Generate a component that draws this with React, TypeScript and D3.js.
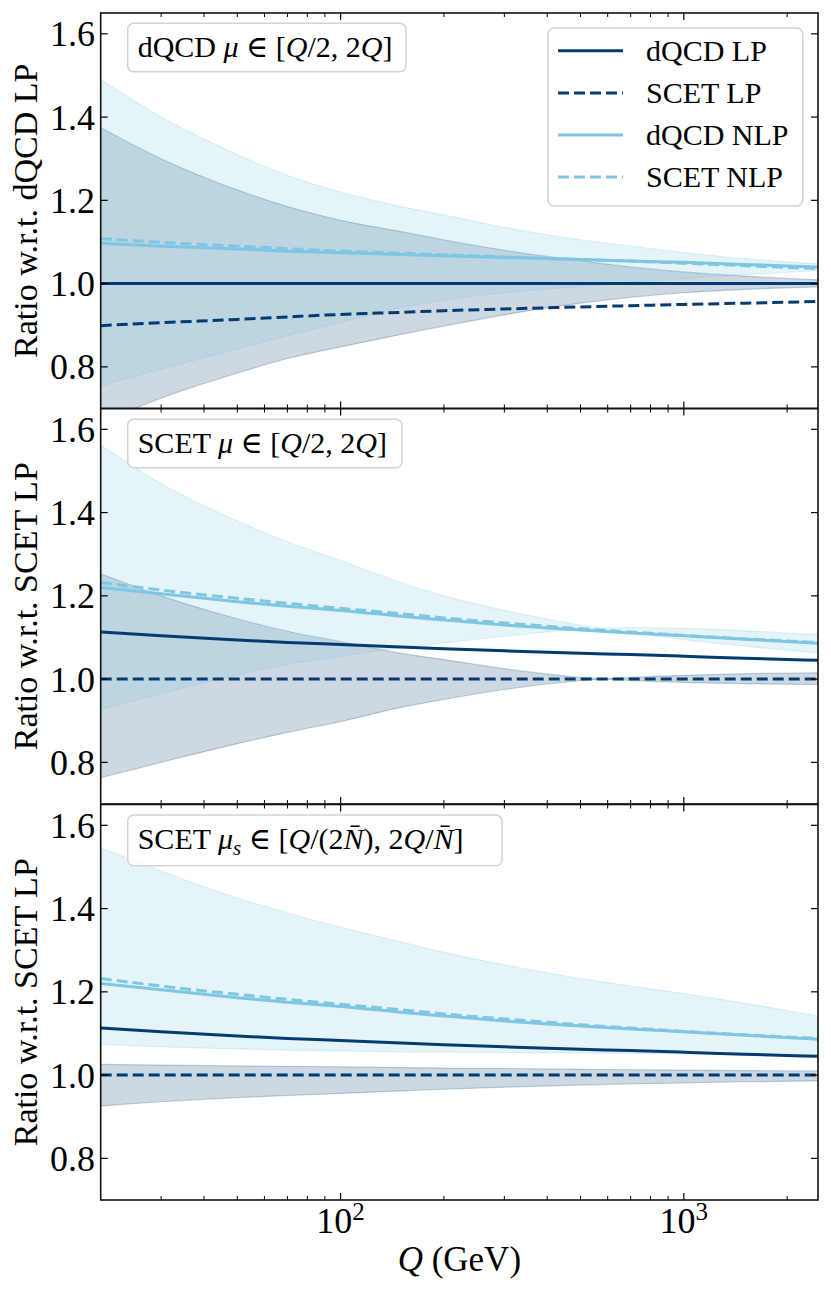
import React from "react";
import * as d3 from "d3";

// ---------- data ----------
const Q = [20, 30, 50, 70, 100, 150, 200, 300, 500, 700, 1000, 1500, 2460];

// panel 1 : ratio w.r.t. dQCD LP, mu in [Q/2, 2Q]
const p1DqcdLP = [1, 1, 1, 1, 1, 1, 1, 1, 1, 1, 1, 1, 1];
const p1ScetLP = [0.899, 0.906, 0.914, 0.92, 0.926, 0.931, 0.935, 0.939, 0.944, 0.947, 0.95, 0.953, 0.957];
const p1DqcdNLP = [1.097, 1.09, 1.083, 1.078, 1.074, 1.07, 1.067, 1.063, 1.058, 1.054, 1.051, 1.046, 1.04];
const p1ScetNLP = [1.108, 1.099, 1.09, 1.084, 1.078, 1.073, 1.069, 1.064, 1.058, 1.054, 1.049, 1.043, 1.036];
const p1LpLow = [0.665, 0.725, 0.785, 0.82, 0.848, 0.878, 0.898, 0.925, 0.953, 0.967, 0.978, 0.986, 0.992];
const p1LpHigh = [1.375, 1.3, 1.225, 1.185, 1.152, 1.125, 1.105, 1.08, 1.055, 1.04, 1.028, 1.018, 1.009];
const p1NlpLow = [0.754, 0.795, 0.843, 0.875, 0.907, 0.942, 0.96, 0.978, 0.993, 1.003, 1.012, 1.021, 1.031];
const p1NlpHigh = [1.49, 1.4, 1.31, 1.26, 1.22, 1.185, 1.165, 1.135, 1.105, 1.09, 1.075, 1.06, 1.048];

// panels 2 and 3 : ratio w.r.t. SCET LP
const p2DqcdLP = [1.113, 1.104, 1.094, 1.088, 1.083, 1.077, 1.073, 1.068, 1.062, 1.059, 1.055, 1.05, 1.045];
const p2ScetLP = [1, 1, 1, 1, 1, 1, 1, 1, 1, 1, 1, 1, 1];
const p2DqcdNLP = [1.22, 1.205, 1.186, 1.175, 1.165, 1.151, 1.142, 1.13, 1.118, 1.111, 1.104, 1.096, 1.086];
const p2ScetNLP = [1.232, 1.214, 1.194, 1.182, 1.17, 1.157, 1.147, 1.135, 1.121, 1.113, 1.105, 1.097, 1.088];

const p2LpHigh = [1.253, 1.2, 1.145, 1.115, 1.09, 1.062, 1.047, 1.025, 1.004, 0.997, 0.992, 0.989, 0.987];
const p2LpLow = [0.763, 0.8, 0.845, 0.872, 0.898, 0.932, 0.951, 0.975, 0.996, 1.004, 1.009, 1.013, 1.015];
const p2NlpHigh = [1.5625, 1.47, 1.38, 1.33, 1.285, 1.232, 1.2, 1.165, 1.13, 1.112, 1.095, 1.079, 1.063];
const p2NlpLow = [0.927, 0.965, 1.01, 1.035, 1.055, 1.075, 1.087, 1.103, 1.12, 1.124, 1.122, 1.116, 1.107];

const p3LpHigh = [1.026, 1.024, 1.022, 1.021, 1.02, 1.018, 1.017, 1.016, 1.014, 1.013, 1.012, 1.011, 1.01];
const p3LpLow = [0.926, 0.936, 0.946, 0.951, 0.956, 0.962, 0.966, 0.971, 0.976, 0.979, 0.981, 0.984, 0.986];
const p3NlpHigh = [1.546, 1.49, 1.425, 1.39, 1.355, 1.32, 1.295, 1.265, 1.232, 1.214, 1.196, 1.173, 1.142];
const p3NlpLow = [1.074, 1.068, 1.063, 1.06, 1.058, 1.056, 1.055, 1.054, 1.053, 1.052, 1.051, 1.05, 1.049];

const yTicks = [0.8, 1.0, 1.2, 1.4, 1.6];
const xMajor = [100, 1000];
const xMinor = [30, 40, 50, 60, 70, 80, 90, 200, 300, 400, 500, 600, 700, 800, 900, 2000];
const legendLabels = ["dQCD LP", "SCET LP", "dQCD NLP", "SCET NLP"];
const yLabels = ["Ratio w.r.t. dQCD LP", "Ratio w.r.t. SCET LP", "Ratio w.r.t. SCET LP"];

// ---------- style ----------
const DARK = "#053c70";
const LIGHT = "#7ec6e2";
const FONT = "'Liberation Serif', 'DejaVu Serif', serif";
const W = 831;
const H = 1294;
const LEFT = 100.7;
const RIGHT = 818;
const TOPS = [13, 408.5, 804.5];
const PH = 395.5;

const x = d3.scaleLog().domain([20, 2460]).range([LEFT, RIGHT]);

type PanelProps = {
  idx: number;
  dqcdLP: number[];
  scetLP: number[];
  dqcdNLP: number[];
  scetNLP: number[];
  lpLow: number[];
  lpHigh: number[];
  nlpLow: number[];
  nlpHigh: number[];
};

function Panel(p: PanelProps) {
  const top = TOPS[p.idx];
  const y = d3.scaleLinear().domain([0.7, 1.65]).range([top + PH, top]);
  const line = (vals: number[]) =>
    d3
      .line<number>()
      .x((_, i) => x(Q[i]))
      .y((v) => y(v))
      .curve(d3.curveMonotoneX)(vals) || "";
  const area = (lo: number[], hi: number[]) =>
    d3
      .area<number>()
      .x((_, i) => x(Q[i]))
      .y0((_, i) => y(lo[i]))
      .y1((_, i) => y(hi[i]))
      .curve(d3.curveMonotoneX)(Q) || "";
  const edge = (vals: number[], color: string) => (
    <path d={line(vals)} fill="none" stroke={color} strokeOpacity={0.22} strokeWidth={1.2} />
  );
  const clipId = `clip${p.idx}`;
  const bottom = top + PH;
  return (
    <g>
      <defs>
        <clipPath id={clipId}>
          <rect x={LEFT} y={top} width={RIGHT - LEFT} height={PH} />
        </clipPath>
      </defs>
      <g clipPath={`url(#${clipId})`}>
        <path d={area(p.lpLow, p.lpHigh)} fill={DARK} fillOpacity={0.2} />
        {edge(p.lpLow, DARK)}
        {edge(p.lpHigh, DARK)}
        <path d={area(p.nlpLow, p.nlpHigh)} fill={LIGHT} fillOpacity={0.2} />
        {edge(p.nlpLow, LIGHT)}
        {edge(p.nlpHigh, LIGHT)}
        <path d={line(p.dqcdLP)} fill="none" stroke={DARK} strokeWidth={3} />
        <path d={line(p.scetLP)} fill="none" stroke={DARK} strokeWidth={3} strokeDasharray="11,5" />
        <path d={line(p.dqcdNLP)} fill="none" stroke={LIGHT} strokeWidth={3} />
        <path d={line(p.scetNLP)} fill="none" stroke={LIGHT} strokeWidth={3} strokeDasharray="11,5" />
      </g>
      {/* ticks */}
      {yTicks.map((t) => (
        <g key={`yt${t}`}>
          <line x1={LEFT} x2={LEFT + 7} y1={y(t)} y2={y(t)} stroke="#000" strokeWidth={1.2} />
          <line x1={RIGHT} x2={RIGHT - 7} y1={y(t)} y2={y(t)} stroke="#000" strokeWidth={1.2} />
          <text
            x={95}
            y={y(t)}
            dy="0.35em"
            textAnchor="end"
            fontFamily={FONT}
            fontSize={36}
          >
            {t.toFixed(1)}
          </text>
        </g>
      ))}
      {xMajor.map((t) => (
        <g key={`xM${t}`}>
          <line x1={x(t)} x2={x(t)} y1={bottom} y2={bottom - 7} stroke="#000" strokeWidth={1.2} />
          <line x1={x(t)} x2={x(t)} y1={top} y2={top + 7} stroke="#000" strokeWidth={1.2} />
        </g>
      ))}
      {xMinor.map((t) => (
        <g key={`xm${t}`}>
          <line x1={x(t)} x2={x(t)} y1={bottom} y2={bottom - 4} stroke="#000" strokeWidth={1} />
          <line x1={x(t)} x2={x(t)} y1={top} y2={top + 4} stroke="#000" strokeWidth={1} />
        </g>
      ))}
      <rect x={LEFT} y={top} width={RIGHT - LEFT} height={PH} fill="none" stroke="#111" strokeWidth={1.6} />
      <text
        transform={`translate(37,${top + PH / 2}) rotate(-90)`}
        textAnchor="middle"
        fontFamily={FONT}
        fontSize={34}
      >
        {yLabels[p.idx]}
      </text>
    </g>
  );
}

function Annotation({ idx }: { idx: number }) {
  const boxes = [
    { x: 127.7, y: 23.3, w: 278.3, h: 48.4, base: 57 },
    { x: 127.7, y: 419.3, w: 274.3, h: 48.4, base: 453 },
    { x: 127.7, y: 815, w: 374.3, h: 50.7, base: 849 },
  ];
  const b = boxes[idx];
  const it = { fontStyle: "italic" as const };
  let content: React.ReactNode;
  if (idx === 0 || idx === 1) {
    content = (
      <>
        <tspan>{idx === 0 ? "dQCD " : "SCET "}</tspan>
        <tspan {...it}>μ</tspan>
        <tspan> ∈ [</tspan>
        <tspan {...it}>Q</tspan>
        <tspan>/2, 2</tspan>
        <tspan {...it}>Q</tspan>
        <tspan>]</tspan>
      </>
    );
  } else {
    content = (
      <>
        <tspan>SCET </tspan>
        <tspan {...it}>μ</tspan>
        <tspan {...it} fontSize={21} dy={6}>s</tspan>
        <tspan dy={-6}> ∈ [</tspan>
        <tspan {...it}>Q</tspan>
        <tspan>/(2</tspan>
        <tspan {...it}>N̄</tspan>
        <tspan>), 2</tspan>
        <tspan {...it}>Q</tspan>
        <tspan>/</tspan>
        <tspan {...it}>N̄</tspan>
        <tspan>]</tspan>
      </>
    );
  }
  return (
    <g>
      <rect x={b.x} y={b.y} width={b.w} height={b.h} rx={6} fill="#fff" fillOpacity={0.8} stroke="#d3d3d3" strokeWidth={1.5} />
      <text x={b.x + 10} y={b.base} fontFamily={FONT} fontSize={30}>
        {content}
      </text>
    </g>
  );
}

function Legend() {
  const rowsY = [50.7, 93, 135, 177];
  const styles = [
    { c: DARK, d: undefined },
    { c: DARK, d: "11,5" },
    { c: LIGHT, d: undefined },
    { c: LIGHT, d: "11,5" },
  ];
  return (
    <g>
      <rect x={548} y={28} width={254.7} height={178} rx={6} fill="#fff" fillOpacity={0.8} stroke="#d3d3d3" strokeWidth={1.5} />
      {legendLabels.map((lab, i) => (
        <g key={lab}>
          <line x1={558} x2={623} y1={rowsY[i]} y2={rowsY[i]} stroke={styles[i].c} strokeWidth={3} strokeDasharray={styles[i].d} />
          <text x={646} y={rowsY[i]} dy="0.33em" fontFamily={FONT} fontSize={30}>
            {lab}
          </text>
        </g>
      ))}
    </g>
  );
}

export default function App() {
  const bottom = TOPS[2] + PH;
  return (
    <div style={{ position: "absolute", left: 0, top: 0 }}>
      <svg width={W} height={H} viewBox={`0 0 ${W} ${H}`} style={{ display: "block", background: "#fff" }}>
        <Panel idx={0} dqcdLP={p1DqcdLP} scetLP={p1ScetLP} dqcdNLP={p1DqcdNLP} scetNLP={p1ScetNLP}
          lpLow={p1LpLow} lpHigh={p1LpHigh} nlpLow={p1NlpLow} nlpHigh={p1NlpHigh} />
        <Panel idx={1} dqcdLP={p2DqcdLP} scetLP={p2ScetLP} dqcdNLP={p2DqcdNLP} scetNLP={p2ScetNLP}
          lpLow={p2LpLow} lpHigh={p2LpHigh} nlpLow={p2NlpLow} nlpHigh={p2NlpHigh} />
        <Panel idx={2} dqcdLP={p2DqcdLP} scetLP={p2ScetLP} dqcdNLP={p2DqcdNLP} scetNLP={p2ScetNLP}
          lpLow={p3LpLow} lpHigh={p3LpHigh} nlpLow={p3NlpLow} nlpHigh={p3NlpHigh} />
        <Annotation idx={0} />
        <Annotation idx={1} />
        <Annotation idx={2} />
        <Legend />
        {xMajor.map((t, i) => (
          <text key={`xl${t}`} x={x(t)} y={bottom + 33} textAnchor="middle" fontFamily={FONT} fontSize={36}>
            <tspan>10</tspan>
            <tspan fontSize={25} dy={-13}>{i === 0 ? "2" : "3"}</tspan>
          </text>
        ))}
        <text x={(LEFT + RIGHT) / 2} y={bottom + 71} textAnchor="middle" fontFamily={FONT} fontSize={35}>
          <tspan fontStyle="italic">Q</tspan>
          <tspan> (GeV)</tspan>
        </text>
      </svg>
    </div>
  );
}
